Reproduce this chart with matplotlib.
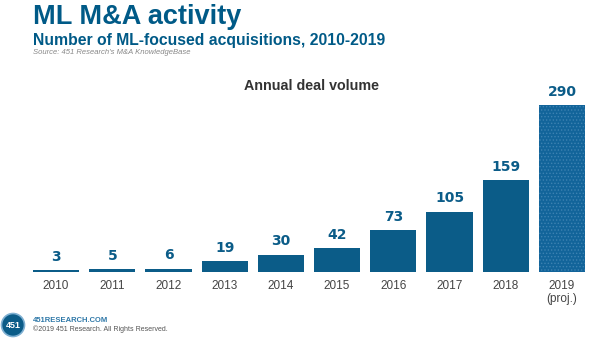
import matplotlib
matplotlib.use("Agg")
import matplotlib.pyplot as plt
from matplotlib.patches import Ellipse

years = ["2010", "2011", "2012", "2013", "2014", "2015", "2016", "2017", "2018", "2019\n(proj.)"]
deals = [3, 5, 6, 19, 30, 42, 73, 105, 159, 290]
projected = [False] * 9 + [True]

BLUE = "#0b5c88"
PROJ = "#12649a"
DOT = "#3d82b2"

plt.rcParams['font.family'] = ['Liberation Sans', 'DejaVu Sans']
plt.rcParams['hatch.linewidth'] = 0.6

fig = plt.figure(figsize=(6, 3.4), dpi=100)
ax = fig.add_axes([28/600, 68/340, 562/600, 172.8/340])

x = list(range(len(years)))
for xi, v, p in zip(x, deals, projected):
    if p:
        ax.bar(xi, v, width=0.82, color=PROJ, edgecolor=DOT, hatch='.....', linewidth=0)
    else:
        ax.bar(xi, v, width=0.82, color=BLUE, linewidth=0)
    ax.annotate(str(v), (xi, v), xytext=(0, 4.5), textcoords='offset points',
                ha='center', va='bottom', fontsize=10, fontweight='bold',
                family='DejaVu Sans', color=BLUE, annotation_clip=False)

ax.set_xlim(-0.5, len(years) - 0.5)
ax.set_ylim(0, 300)
ax.set_xticks(x)
ax.set_xticklabels(years, fontsize=8.5, color="#444444", linespacing=1.1)
ax.tick_params(axis='x', length=0, pad=6)
ax.set_yticks([])
for s in ax.spines.values():
    s.set_visible(False)

fig.text(311/600, 1 - 86/340, "Annual deal volume", ha='center', va='center',
         fontsize=10.3, fontweight='bold', color="#333333")

fig.text(33/600, 1 - 17/340, "ML M&A activity", ha='left', va='center',
         fontsize=19.5, fontweight='bold', color="#005a87")
fig.text(33/600, 1 - 40/340, "Number of ML-focused acquisitions, 2010-2019", ha='left',
         va='center', fontsize=11.3, fontweight='bold', color="#005a87")
fig.text(33/600, 1 - 52.5/340, "Source: 451 Research's M&A KnowledgeBase", ha='left',
         va='center', fontsize=5.5, style='italic', color="#888888")

# footer
circ = Ellipse((13/600, 1 - 325/340), 23/600, 23/340, transform=fig.transFigure,
               facecolor="#0b5c88", edgecolor="#7fb0d2", linewidth=1.2)
fig.patches.append(circ)
fig.text(13/600, 1 - 325/340, "451", ha='center', va='center', fontsize=6.5,
         color='white', fontweight='bold')
fig.text(33/600, 1 - 320/340, "451RESEARCH.COM", ha='left', va='center',
         fontsize=5.5, fontweight='bold', color="#2f78a8")
fig.text(33/600, 1 - 329/340, "\u00a92019 451 Research. All Rights Reserved.", ha='left',
         va='center', fontsize=5, color="#555555")

fig.savefig("out.png", dpi=100)
